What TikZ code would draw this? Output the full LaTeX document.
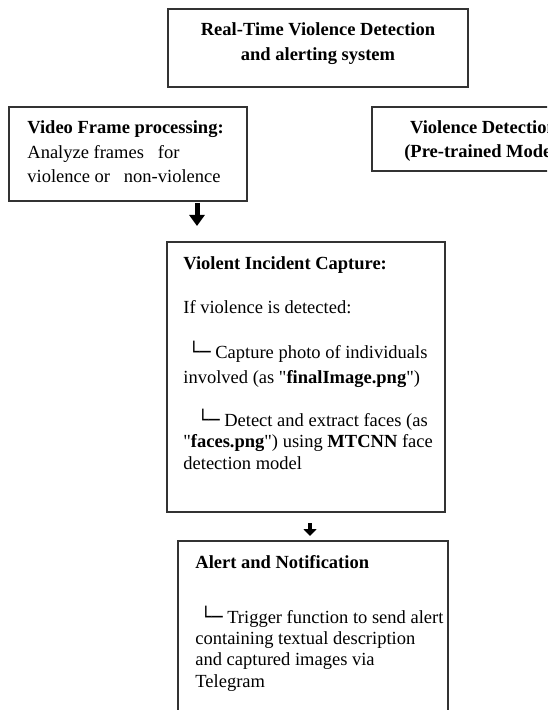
\documentclass[tikz,border=0pt]{standalone}
\usepackage{fontspec}
\setmainfont{Liberation Serif}
\newfontfamily\boxglyph{DejaVu Sans}
\usetikzlibrary{arrows.meta}
\newcommand{\branch}{{\boxglyph └─}}
\newcommand{\sq}{\textquotedbl}
\begin{document}
\begin{tikzpicture}[x=0.5pt,y=-0.5pt,
  box/.style={draw=black!80, line width=0.9pt, rectangle, inner sep=0pt},
  txt/.style={anchor=base west, inner sep=0pt, font=\fontsize{9.25}{11}\selectfont},
  ctxt/.style={anchor=base, inner sep=0pt, font=\fontsize{9.25}{11}\selectfont\bfseries},
  bigarrow/.style={draw=black, line width=2.5pt, -{Triangle[width=7.5pt,length=5.5pt]}},
  smallarrow/.style={draw=black, line width=2pt, -{Triangle[width=6.5pt,length=3.5pt]}}]
\useasboundingbox (0,0) rectangle (547,710);
\clip (0,0) rectangle (547,710);
% boxes
\node[box, minimum width=150pt, minimum height=39pt] (title) at (318,48) {};
\node[box, minimum width=119pt, minimum height=47pt] (video) at (128,154) {};
\node[box, minimum width=111.5pt, minimum height=32pt] (model) at (483.5,139) {};
\node[box, minimum width=139pt, minimum height=135pt] (capture) at (306,377) {};
\node[box, minimum width=135pt, minimum height=109.5pt] (alert) at (313,650.5) {};
% title text
\node[ctxt] (tt1) at (318,36) {Real-Time Violence Detection};
\node[ctxt] (tt2) at (318,61) {and alerting system};
% video text
\node[txt, font=\fontsize{9.25}{11}\selectfont\bfseries] (vt1) at (27,134) {Video Frame processing:};
\node[txt] (vt2) at (27,159) {Analyze frames\ \ \ for};
\node[txt] (vt3) at (27,183) {violence or\ \ \ non-violence};
% model text
\node[ctxt] (mt1) at (483.5,134) {Violence Detection};
\node[ctxt] (mt2) at (483.5,158) {(Pre-trained Model)};
% capture text
\node[txt, font=\fontsize{9.25}{11}\selectfont\bfseries] (ct1) at (183,270) {Violent Incident Capture:};
\node[txt] (ct2) at (183,314) {If violence is detected:};
\node[txt] (ct3) at (188,358) {\branch\ Capture photo of individuals};
\node[txt] (ct4) at (183,383) {involved (as \sq\textbf{finalImage.png}\sq)};
\node[txt] (ct5) at (197,426) {\branch\ Detect and extract faces (as};
\node[txt] (ct6) at (183,447) {\sq\textbf{faces.png}\sq) using \textbf{MTCNN} face};
\node[txt] (ct7) at (183,469) {detection model};
% alert text
\node[txt, font=\fontsize{9.25}{11}\selectfont\bfseries] (at1) at (195,568) {Alert and Notification};
\node[txt] (at2) at (200,623) {\branch\ Trigger function to send alert};
\node[txt] (at3) at (195,644.5) {containing textual description};
\node[txt] (at4) at (195,665.5) {and captured images via};
\node[txt] (at5) at (195,687) {Telegram};
% arrows
\coordinate (a1s) at (197,203);
\coordinate (a1e) at (197,226);
\coordinate (a2s) at (310,523);
\coordinate (a2e) at (310,536);
\draw[bigarrow] (a1s) -- (a1e);
\draw[smallarrow] (a2s) -- (a2e);
\end{tikzpicture}
\end{document}
